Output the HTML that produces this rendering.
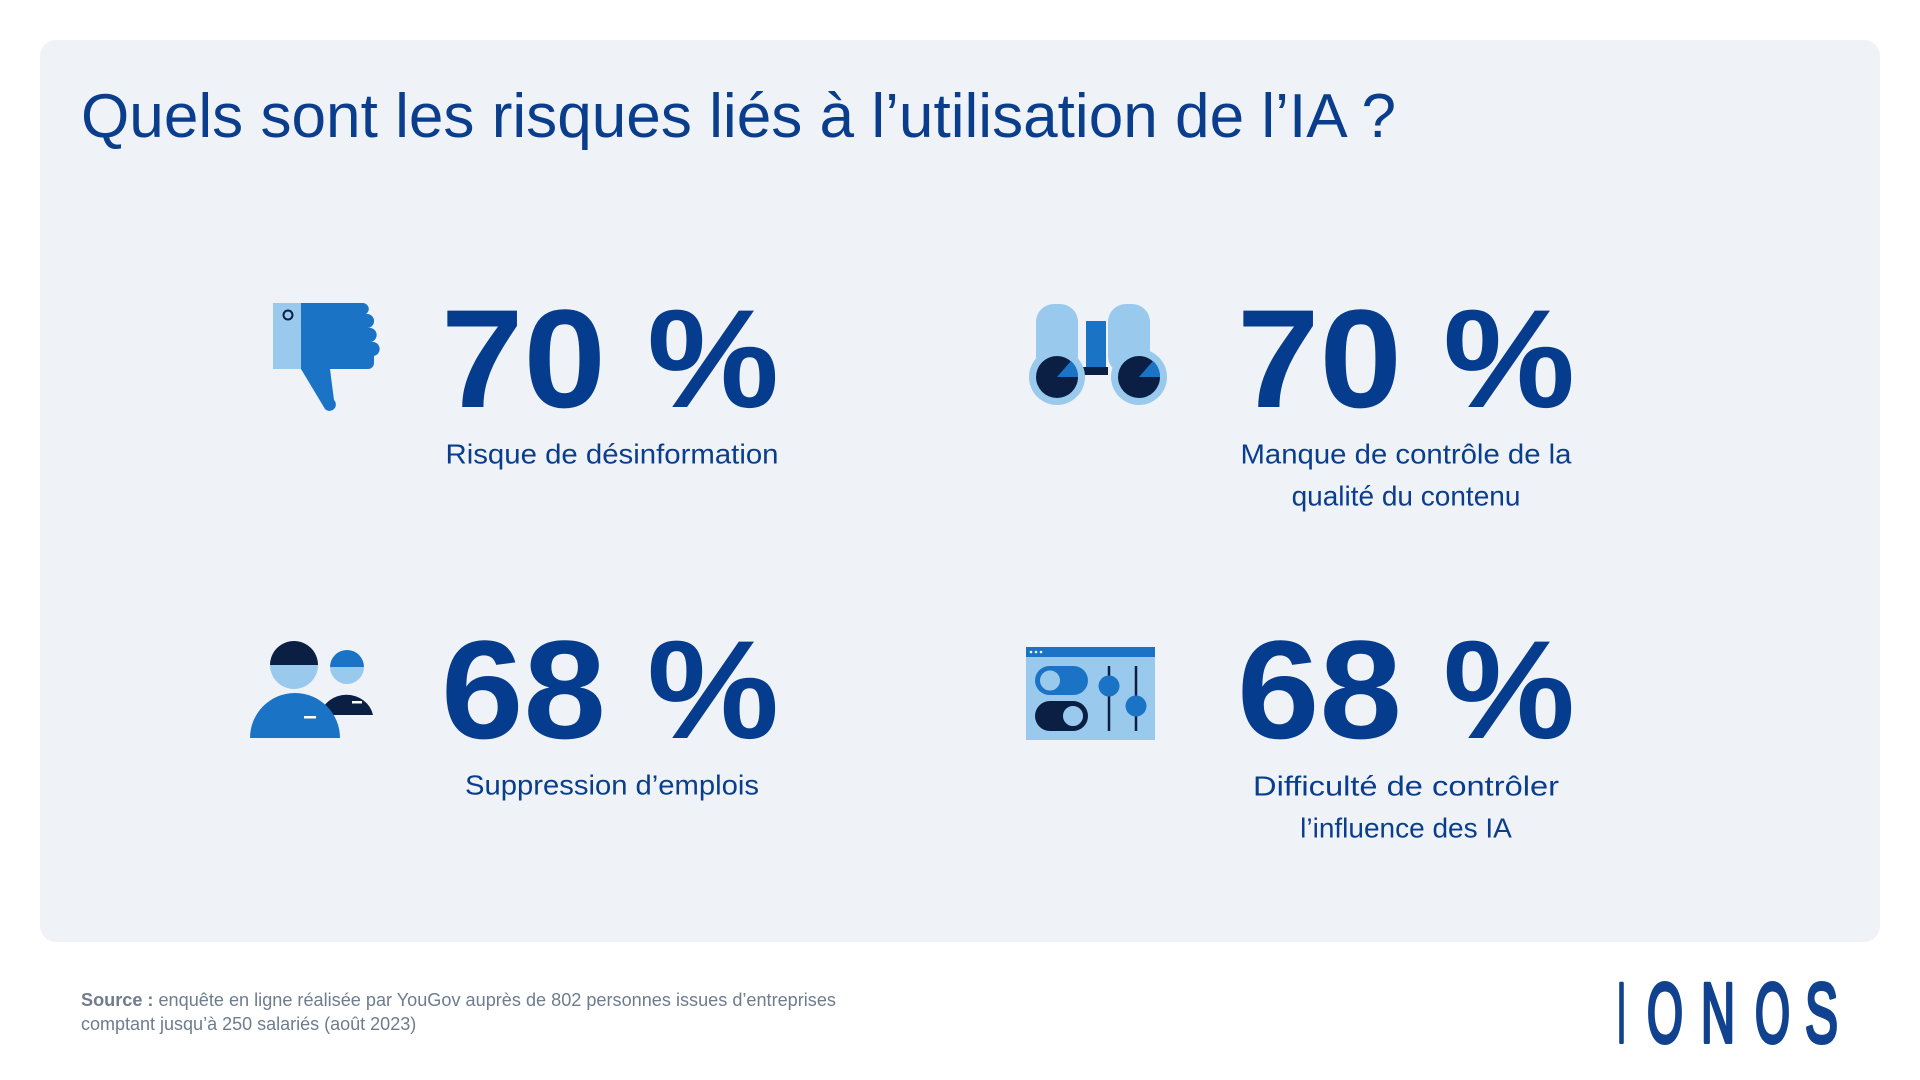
<!DOCTYPE html>
<html><head><meta charset="utf-8"><style>
html,body{margin:0;padding:0;background:#fff;width:1920px;height:1080px;overflow:hidden}
svg{display:block}
text{font-family:"Liberation Sans",sans-serif}
</style></head><body>
<svg width="1920" height="1080" viewBox="0 0 1920 1080">
<rect x="40" y="40" width="1840" height="902" rx="16" fill="#eff3f7"/>
<text x="81" y="137" font-size="62" fill="#0a3d8c" textLength="1315" lengthAdjust="spacingAndGlyphs">Quels sont les risques liés à l’utilisation de l’IA ?</text>

<g fill="#063c8e" font-weight="bold" font-size="140">
<text x="441" y="407" textLength="338" lengthAdjust="spacingAndGlyphs">70 %</text>
<text x="1237" y="407" textLength="338" lengthAdjust="spacingAndGlyphs">70 %</text>
<text x="441" y="738" textLength="338" lengthAdjust="spacingAndGlyphs">68 %</text>
<text x="1237" y="738" textLength="338" lengthAdjust="spacingAndGlyphs">68 %</text>
</g>
<g fill="#0a3d8c" font-size="28" text-anchor="middle" dominant-baseline="central">
<text x="612" y="454" textLength="333" lengthAdjust="spacingAndGlyphs">Risque de désinformation</text>
<text x="1406" y="454" textLength="331" lengthAdjust="spacingAndGlyphs">Manque de contrôle de la</text>
<text x="1406" y="496">qualité du contenu</text>
<text x="612" y="785" textLength="294" lengthAdjust="spacingAndGlyphs">Suppression d’emplois</text>
<text x="1406" y="786" textLength="306" lengthAdjust="spacingAndGlyphs">Difficulté de contrôler</text>
<text x="1406" y="828">l’influence des IA</text>
</g>

<!-- thumb -->
<rect x="273" y="303" width="30" height="66" fill="#99c9ec"/>
<path d="M301 303 H362 a6 6 0 0 1 4 11 a6 6 0 0 1 2 14 a6 6 0 0 1 3 14 a6 6 0 0 1 3 14 V363 a6 6 0 0 1 -6 6 H330 L334 400 a6 6 0 0 1 -9 9 L301 369 Z" fill="#1a73c4"/>
<circle cx="288" cy="315" r="4.5" fill="none" stroke="#0b1f44" stroke-width="2"/>

<!-- binoculars -->
<rect x="1036" y="304" width="42" height="70" rx="18" fill="#99c9ec"/>
<rect x="1108" y="304" width="42" height="70" rx="18" fill="#99c9ec"/>
<rect x="1086" y="321" width="20" height="46" fill="#1a73c4"/>
<rect x="1078" y="367" width="30" height="8" fill="#0b1f44"/>
<circle cx="1057" cy="377" r="28" fill="#99c9ec"/>
<circle cx="1139" cy="377" r="28" fill="#99c9ec"/>
<circle cx="1057" cy="377" r="21" fill="#0b1f44"/>
<circle cx="1139" cy="377" r="21" fill="#0b1f44"/>
<path d="M1057 377 L1071 361 A21 21 0 0 1 1078 377 Z" fill="#1a73c4"/>
<path d="M1139 377 L1153 361 A21 21 0 0 1 1160 377 Z" fill="#1a73c4"/>

<!-- people -->
<path d="M320 715 A27 25 0 0 1 373 715 Z" fill="#0b1f44"/>
<rect x="352" y="701" width="10" height="2.5" fill="#fff"/>
<path d="M330 667 A17 17 0 0 1 364 667 Z" fill="#1a73c4"/>
<path d="M330 667 A17 17 0 0 0 364 667 Z" fill="#99c9ec"/>
<path d="M250 738 A45 45 0 0 1 340 738 Z" fill="#1a73c4"/>
<rect x="304" y="716" width="12" height="2.5" fill="#fff"/>
<path d="M270 665 A24 24 0 0 1 318 665 Z" fill="#0b1f44"/>
<path d="M270 665 A24 24 0 0 0 318 665 Z" fill="#99c9ec"/>

<!-- controls -->
<rect x="1026" y="647" width="129" height="93" fill="#99c9ec"/>
<rect x="1026" y="647" width="129" height="10" fill="#1a73c4"/>
<circle cx="1031" cy="652" r="1.3" fill="#fff"/><circle cx="1036" cy="652" r="1.3" fill="#fff"/><circle cx="1041" cy="652" r="1.3" fill="#fff"/>
<rect x="1035" y="666" width="53" height="29" rx="14.5" fill="#1a73c4"/>
<circle cx="1050" cy="680.5" r="11" fill="#99c9ec" stroke="#1a73c4" stroke-width="2"/>
<rect x="1035" y="701" width="53" height="30" rx="15" fill="#0b1f44"/>
<circle cx="1073" cy="716" r="11" fill="#99c9ec" stroke="#0b1f44" stroke-width="2"/>
<line x1="1109" y1="666" x2="1109" y2="731" stroke="#0b1f44" stroke-width="2.5"/>
<line x1="1136" y1="666" x2="1136" y2="731" stroke="#0b1f44" stroke-width="2.5"/>
<circle cx="1109" cy="686" r="10.5" fill="#1a73c4"/>
<circle cx="1136" cy="706" r="10.5" fill="#1a73c4"/>

<!-- footer -->
<text x="81" y="1006" font-size="18" fill="#6e7c8e" textLength="755" lengthAdjust="spacingAndGlyphs"><tspan font-weight="bold">Source :</tspan> enquête en ligne réalisée par YouGov auprès de 802 personnes issues d’entreprises</text>
<text x="81" y="1030" font-size="18" fill="#6e7c8e">comptant jusqu’à 250 salariés (août 2023)</text>
<g font-size="84" fill="#11428f" stroke="#11428f" stroke-width="4" stroke-linejoin="round">
<text x="1617" y="1042" textLength="9" lengthAdjust="spacingAndGlyphs">I</text>
<text x="1647" y="1042" textLength="36" lengthAdjust="spacingAndGlyphs">O</text>
<text x="1701" y="1042" textLength="34" lengthAdjust="spacingAndGlyphs">N</text>
<text x="1755" y="1042" textLength="35" lengthAdjust="spacingAndGlyphs">O</text>
<text x="1805" y="1042" textLength="33" lengthAdjust="spacingAndGlyphs">S</text>
</g>
</svg>
</body></html>
